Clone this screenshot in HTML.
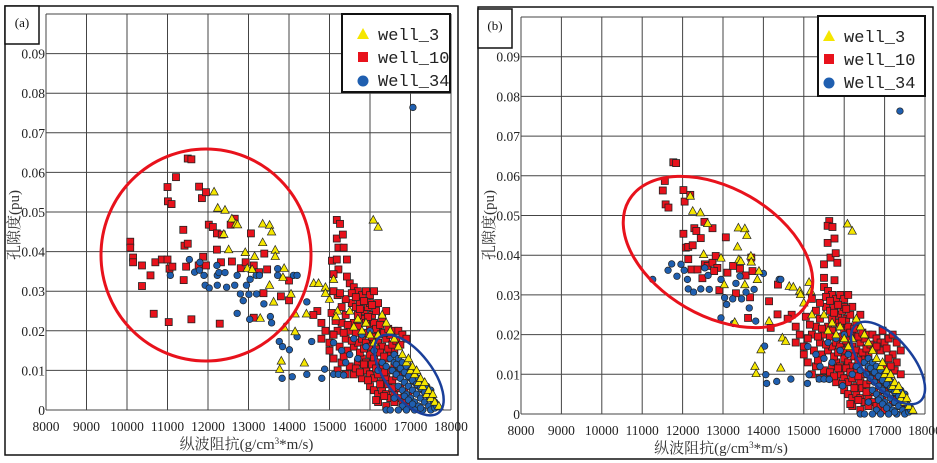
<!DOCTYPE html>
<html><head><meta charset="utf-8">
<style>
html,body{margin:0;padding:0;background:#fff;}
svg{display:block;}
text{font-family:"Liberation Serif","Noto Serif CJK SC","Noto Sans CJK SC",serif;}
.tick{font-size:13.5px;fill:#222;}
.leg{font-family:"Liberation Mono","Noto Sans CJK SC",monospace;font-size:17px;fill:#222;}
</style></head>
<body>
<svg id="chart" width="937" height="463" viewBox="0 0 937 463" xmlns="http://www.w3.org/2000/svg"></svg>
<script>
// ---- data ----
const xTicks = [8000,9000,10000,11000,12000,13000,14000,15000,16000,17000,18000];
const yTicks = [0,0.01,0.02,0.03,0.04,0.05,0.06,0.07,0.08,0.09];
const seriesNames = ["well_3","well_10","Well_34"];

const redA = [[10080,0.0425],[10080,0.041],[10150,0.0385],[10150,0.0373],[10370,0.0365],[10370,0.0313],[10580,0.034],[10700,0.0373],[10860,0.038],[11000,0.038],[11000,0.0563],[11010,0.0527],[11100,0.052],[11210,0.0588],[11050,0.0357],[11120,0.0362],[10660,0.0243],[11030,0.0222],[11390,0.0455],[11420,0.0415],[11500,0.042],[11460,0.0362],[11400,0.0328],[11500,0.0635],[11590,0.0633],[11590,0.0229],[11780,0.0564],[11850,0.0535],[11950,0.055],[11880,0.0387],[11770,0.0365],[11950,0.0365],[12020,0.0468],[12120,0.0462],[12220,0.0446],[12340,0.0443],[12220,0.0405],[12320,0.0373],[12290,0.0218],[12560,0.0468],[12660,0.0483],[12590,0.0375],[12810,0.0358],[12930,0.0373],[13060,0.0446],[13130,0.0365],[13130,0.0233],[13260,0.0348],[13390,0.0395],[13370,0.0295],[13460,0.0355],[13800,0.0287],[14000,0.0327],[14000,0.0277],
[15180,0.048],[15260,0.047],[15180,0.0433],[15330,0.0443],[15220,0.041],[15350,0.041],[15060,0.0377],[15180,0.038],[15430,0.038],[15220,0.0355],[15100,0.0343],[15430,0.0337],[15100,0.03],[15260,0.0295]];
const blueA = [[11070,0.034],[11540,0.038],[11670,0.0348],[11800,0.0373],[11790,0.0353],[11900,0.034],[11930,0.0315],[12030,0.0308],[12220,0.0365],[12230,0.034],[12270,0.0347],[12230,0.0315],[12420,0.0347],[12460,0.031],[12660,0.0315],[12720,0.034],[12720,0.0244],[12800,0.0293],[12870,0.0276],[12950,0.0315],[13010,0.0292],[13030,0.0229],[13040,0.033],[13190,0.034],[13200,0.0293],[13270,0.034],[13380,0.0268],[13540,0.0236],[13570,0.022],[13720,0.0357],[13720,0.034],[13760,0.0173],[13840,0.016],[13830,0.008],[14080,0.0084],[14010,0.0152],[14110,0.034],[14200,0.034],[14200,0.0185],[14440,0.009],[14440,0.0273],[14560,0.0173],[14810,0.008],[14880,0.0103],[15100,0.009],[15220,0.009],[15350,0.0088],[17060,0.0764]];
const yellowA = [[12150,0.0551],[12240,0.051],[12420,0.0505],[12390,0.0444],[12510,0.0405],[12590,0.0483],[12690,0.047],[12730,0.0468],[12920,0.0398],[12970,0.0358],[13090,0.0355],[13150,0.0388],[13290,0.0232],[13350,0.047],[13350,0.0423],[13520,0.0467],[13570,0.045],[13520,0.0315],[13660,0.0404],[13660,0.0388],[13620,0.0273],[13880,0.0358],[13850,0.0335],[13810,0.0124],[13770,0.0103],[13880,0.0208],[14050,0.0293],[14150,0.0243],[14150,0.0198],[14380,0.0119],[14430,0.0243],[14610,0.032],[14730,0.032],[14900,0.0295],[15100,0.033],[16080,0.048],[16200,0.0462],[15160,0.0236]];

const redB = [[11770,0.0634],[11840,0.0632],[11510,0.0563],[11560,0.0587],[11580,0.0528],[11650,0.052],[12020,0.0564],[12050,0.0535],[12190,0.0552],[12020,0.0454],[12080,0.0419],[12140,0.0421],[12250,0.0425],[12140,0.039],[12290,0.0468],[12340,0.0461],[12450,0.0443],[12540,0.0484],[12740,0.0468],[13070,0.0445],[12220,0.0364],[12370,0.0364],[12550,0.0377],[12620,0.0373],[12740,0.0381],[12820,0.0398],[12860,0.0368],[12490,0.0342],[12780,0.036],[12910,0.0312],[13110,0.0356],[13250,0.0373],[13420,0.0366],[13560,0.0349],[13700,0.0394],[13730,0.036],[13320,0.0304],[13670,0.0294],[13620,0.0242],[14140,0.0284],[14350,0.0251],[14360,0.0326],[14180,0.0217],
[15630,0.0486],[15590,0.0474],[15710,0.0471],[15590,0.0431],[15760,0.0442],[15500,0.0377],[15660,0.0394],[15790,0.0405],[15830,0.0381],[15500,0.0343],[15760,0.0337],
[17000,0.018],[17100,0.019],[17200,0.020],[17300,0.018],[17400,0.016],[17200,0.015],[17300,0.013],[17100,0.014],[17000,0.012],[17250,0.011],[17400,0.010],[17100,0.009],[17300,0.004],[17400,0.002],[17500,0.001],[16900,0.016],[16800,0.017],[16950,0.021],[17050,0.0165],[17150,0.012],[16900,0.008],[17000,0.006],[17200,0.003]];
const blueB = [[11260,0.0339],[11640,0.0362],[11730,0.0378],[11860,0.0347],[11960,0.0377],[12040,0.0362],[12120,0.0339],[12140,0.0315],[12270,0.0307],[12450,0.0315],[12660,0.0314],[12630,0.0349],[12550,0.0368],[12950,0.0339],[12950,0.0242],[13040,0.0293],[13090,0.0276],[13240,0.029],[13260,0.0228],[13320,0.0329],[13420,0.0347],[13460,0.029],[13570,0.0307],[13650,0.0267],[13770,0.0314],[13810,0.0234],[14000,0.0354],[14030,0.0171],[14080,0.0077],[14060,0.0099],[14330,0.0082],[14390,0.0339],[14430,0.0339],[14680,0.0088],[15090,0.0077],[15130,0.0099],[15380,0.0088],[15500,0.0088],[15630,0.0087],[15960,0.0071],[17380,0.0763]];
const yellowB = [[12190,0.0549],[12250,0.0511],[12440,0.0507],[12620,0.048],[12520,0.0402],[13380,0.0469],[13540,0.0467],[13590,0.045],[13360,0.0421],[13390,0.0389],[13440,0.0385],[13690,0.0398],[13700,0.0383],[13890,0.036],[13850,0.0339],[13290,0.0231],[12950,0.0393],[13030,0.0326],[13540,0.0326],[13790,0.012],[13820,0.0102],[13940,0.0162],[14140,0.0234],[14430,0.0116],[14640,0.0322],[14740,0.032],[14920,0.0301],[15130,0.0332],[15170,0.031],[16080,0.0479],[16200,0.0461],[14470,0.0192],[14550,0.0183]];

const denseRed = [[15500,0.032],[15600,0.031],[15700,0.030],[15800,0.029],[15900,0.030],[16000,0.029],[15550,0.027],[15650,0.026],[15750,0.027],[15850,0.025],[15950,0.026],[16050,0.024],[16150,0.025],[16300,0.023],[15400,0.024],[15300,0.022],[15200,0.020],[15100,0.019],[15000,0.017],[15250,0.016],[15400,0.018],[15500,0.020],[15600,0.022],[15700,0.021],[15800,0.023],[15900,0.022],[16000,0.021],[16100,0.022],[16200,0.020],[15450,0.015],[15600,0.016],[15700,0.017],[15800,0.018],[15900,0.017],[16000,0.016],[16100,0.018],[16200,0.017],[16300,0.016],[16400,0.018],[16500,0.019],[16600,0.020],[16700,0.020],[16800,0.019],[16900,0.018],[15100,0.013],[15300,0.012],[15500,0.011],[15700,0.012],[15800,0.013],[15900,0.012],[16000,0.014],[16100,0.013],[16200,0.012],[16300,0.011],[16400,0.013],[16500,0.014],[16600,0.015],[15600,0.009],[15800,0.008],[15900,0.010],[16000,0.009],[16100,0.008],[16200,0.009],[16300,0.007],[16400,0.008],[16500,0.010],[16600,0.011],[16700,0.012],[16000,0.006],[16100,0.005],[16200,0.004],[16300,0.005],[16400,0.004],[16500,0.003],[16600,0.004],[16700,0.003],[16800,0.002],[16900,0.002],[17000,0.001],[16200,0.002],[16400,0.001],[16600,0.002],[15200,0.010],[15400,0.009],[14900,0.020],[14800,0.022],[14700,0.025],[14600,0.024],[14800,0.018],[15000,0.015],[16200,0.027],[16400,0.025],[16000,0.027],[16100,0.030],[15700,0.024],[15300,0.026],[15200,0.029],[15400,0.028],
[15550,0.0295],[15650,0.0285],[15750,0.0255],[15850,0.0275],[15950,0.0235],[16050,0.0265],[16150,0.0205],[16250,0.0215],[16350,0.0195],[16450,0.0205],[15450,0.0215],[15550,0.0175],[15650,0.0195],[15750,0.0145],[15850,0.0155],[15950,0.0195],[16050,0.0185],[16150,0.0155],[16250,0.0145],[16350,0.0135],[16450,0.0155],[16550,0.0165],[16650,0.0175],[16750,0.0165],[15650,0.0105],[15750,0.0095],[15850,0.0115],[15950,0.0075],[16050,0.0115],[16150,0.0105],[16250,0.0065],[16350,0.0095],[16450,0.0065],[16550,0.0075],[16650,0.0085],[16750,0.0095],[16150,0.0025],[16350,0.0035],[16550,0.0055],[16750,0.0055],[16850,0.0045],[16950,0.0035],[15350,0.0195],[15150,0.0225],[15050,0.0245],[15350,0.0135]];
const denseBlue = [[16500,0.013],[16600,0.012],[16700,0.011],[16800,0.010],[16900,0.009],[17000,0.008],[17100,0.007],[17200,0.006],[17300,0.005],[17400,0.004],[17500,0.003],[17600,0.002],[16600,0.014],[16700,0.013],[16800,0.012],[16900,0.011],[17000,0.010],[17100,0.009],[17200,0.008],[17300,0.007],[17400,0.006],[17500,0.005],[16550,0.010],[16650,0.009],[16750,0.008],[16850,0.007],[16950,0.006],[17050,0.005],[17150,0.004],[17250,0.003],[17350,0.002],[17450,0.001],[16700,0.006],[16800,0.005],[16900,0.004],[17000,0.003],[17100,0.002],[17200,0.001],[16600,0.003],[16800,0.001],[16400,0.000],[16500,0.000],[16700,0.000],[16900,0.000],[17100,0.000],[17300,0.000],[15500,0.014],[15700,0.013],[15900,0.016],[16100,0.015],[16300,0.012],[15800,0.019],[16000,0.020],[15600,0.018],[15300,0.015],[15100,0.017],[15400,0.012],[16200,0.010],[16400,0.011],
[16650,0.0115],[16750,0.0105],[16850,0.0095],[16950,0.0085],[17050,0.0075],[17150,0.0065],[17250,0.0055],[17350,0.0045],[17450,0.0035],[17550,0.0025],[16850,0.0035],[16950,0.0025],[17050,0.0015],[17250,0.0005],[17500,0.000],[17600,0.0005],[17650,0.001]];
const denseYellow = [[16300,0.024],[16400,0.022],[16500,0.020],[16600,0.018],[16700,0.016],[16800,0.014],[16900,0.012],[17000,0.010],[17100,0.009],[17200,0.007],[17300,0.006],[17400,0.004],[17500,0.003],[17600,0.002],[17700,0.001],[16950,0.013],[17050,0.011],[17150,0.010],[17250,0.008],[17350,0.007],[17450,0.005],[17550,0.004],[15900,0.022],[16000,0.019],[15700,0.023],[15800,0.020],[16100,0.017],[15500,0.025],[15600,0.021],[16200,0.019],[15000,0.028],[15200,0.025],[14900,0.031]];

// ---- drawing ----
const NS = "http://www.w3.org/2000/svg";
const svg = document.getElementById("chart");
function mk(tag, attrs, parent){
  const e = document.createElementNS(NS, tag);
  for (const k in attrs) e.setAttribute(k, attrs[k]);
  (parent||svg).appendChild(e);
  return e;
}

function drawPanel(p){
  const g = mk("g", {});
  
  
  const sx = v => p.x0 + (v - 8000) / 10000 * (p.x1 - p.x0);
  const sy = v => p.y0 - v / 0.1 * (p.y0 - p.yTop);

  const frame = mk("rect", {x:p.fx, y:p.fy, width:p.fw, height:p.fh, fill:"none", stroke:"#111", "stroke-width":1.5}, g);
  
  

  for (let v = 8000; v <= 18000; v += 1000){
    const l = mk("line", {x1:sx(v), x2:sx(v), y1:p.yTop, y2:p.y0, stroke:"#444", "stroke-width":1}, g);
    
    
  }
  for (let i = 0; i <= 10; i++){
    const v = i * 0.01;
    const l = mk("line", {x1:p.x0, x2:p.x1, y1:sy(v), y2:sy(v), stroke:"#444", "stroke-width":1}, g);
    
    
  }
  xTicks.forEach(t => {
    const tx = mk("text", {x:sx(t), y:p.y0 + 21, "text-anchor":"middle", class:"tick"}, g);
    tx.textContent = t;
    
    
  });
  yTicks.forEach(t => {
    const tx = mk("text", {x:p.x0 - 1, y:sy(t) + 5, "text-anchor":"end", class:"tick"}, g);
    tx.textContent = t === 0 ? "0" : t.toFixed(2);
    
    
  });
  const xt = mk("text", {x:(p.x0 + p.x1)/2 - 2, y:p.y0 + 39, "text-anchor":"middle", "font-size":15, fill:"#333"}, g);
  xt.innerHTML = '纵波阻抗(g/cm<tspan font-size="9" dy="-5">3</tspan><tspan dy="5">*m/s)</tspan>';
  
  
  const yt = mk("text", {x:0, y:0, "text-anchor":"middle", "font-size":15, fill:"#333", transform:`translate(${p.x0 - 27},${p.yTitle}) rotate(-90)`}, g);
  yt.textContent = "孔隙度(pu)";
  
  

  function sq(d){
    const s = mk("rect", {x:sx(d[0]) - 3.5, y:sy(d[1]) - 3.5, width:7, height:7, fill:"#e8121c", stroke:"#222", "stroke-width":0.8}, g);
    
    
  }
  function ci(d){
    const c = mk("circle", {cx:sx(d[0]), cy:sy(d[1]), r:3.3, fill:"#1f5fb0", stroke:"#222", "stroke-width":0.7}, g);
    
    
  }
  function tr(d){
    const x = sx(d[0]), y = sy(d[1]);
    const t = mk("polygon", {points:`${x},${y-4.5} ${x+4.2},${y+3.2} ${x-4.2},${y+3.2}`, fill:"#f5e600", stroke:"#222", "stroke-width":0.7}, g);
    
    
  }
  denseRed.forEach(sq); p.red.forEach(sq);
  denseBlue.forEach(ci); p.blue.forEach(ci);
  denseYellow.forEach(tr); p.yellow.forEach(tr);

  const re = mk("ellipse", {cx:p.re[0], cy:p.re[1], rx:p.re[2], ry:p.re[3], transform:`rotate(${p.re[4]} ${p.re[0]} ${p.re[1]})`, fill:"none", stroke:"#e8121c", "stroke-width":3}, g);
  
  
  const be = mk("ellipse", {cx:p.be[0], cy:p.be[1], rx:p.be[2], ry:p.be[3], transform:`rotate(${p.be[4]} ${p.be[0]} ${p.be[1]})`, fill:"none", stroke:"#1a3f9a", "stroke-width":2.5}, g);
  
  

  const lb = mk("rect", {x:p.lb[0], y:p.lb[1], width:p.lb[2], height:p.lb[3], fill:"#fff", stroke:"#111", "stroke-width":1.5}, g);
  
  
  const lt = mk("text", {x:p.lb[0] + p.lb[2]/2, y:p.lb[1] + 21, "text-anchor":"middle", "font-size":13, fill:"#111"}, g);
  lt.textContent = "(" + p.id + ")";
  
  

  const lg = mk("g", {}, g);
  
  
  const lr = mk("rect", {x:p.lg[0], y:p.lg[1], width:p.lg[2], height:p.lg[3], fill:"#fff", stroke:"#111", "stroke-width":2}, lg);
  
  
  seriesNames.forEach((n, i) => {
    const cy = p.lg[1] + 20 + i * 23, mx = p.lg[0] + p.lgm;
    let m;
    if (i === 0) m = mk("polygon", {points:`${mx},${cy-6} ${mx+6},${cy+5} ${mx-6},${cy+5}`, fill:"#f5e600"}, lg);
    else if (i === 1) m = mk("rect", {x:mx-5, y:cy-5, width:10, height:10, fill:"#e8121c"}, lg);
    else m = mk("circle", {cx:mx, cy:cy+1, r:5.5, fill:"#1f5fb0"}, lg);
    
    
    const t = mk("text", {x:mx + 15, y:cy + 6, class:"leg"}, lg);
    t.textContent = n;
    
    
  });
}

drawPanel({id:"a", x0:46, x1:451, y0:410, yTop:14, yTitle:225,
  fx:5, fy:6, fw:453, fh:449, lb:[5,6,34,38], lg:[342,14,108,78], lgm:21,
  red:redA, blue:blueA, yellow:yellowA,
  re:[206,255,105,106,0], be:[409,375,48,23,52]});
drawPanel({id:"b", x0:521, x1:925, y0:414, yTop:17, yTitle:225,
  fx:478, fy:7, fw:455, fh:452, lb:[478,9,34,39], lg:[818,16,107,80], lgm:11,
  red:redB, blue:blueB, yellow:yellowB,
  re:[718,252,103,64,30], be:[888,363,50,24,50]});
</script>
</body></html>
